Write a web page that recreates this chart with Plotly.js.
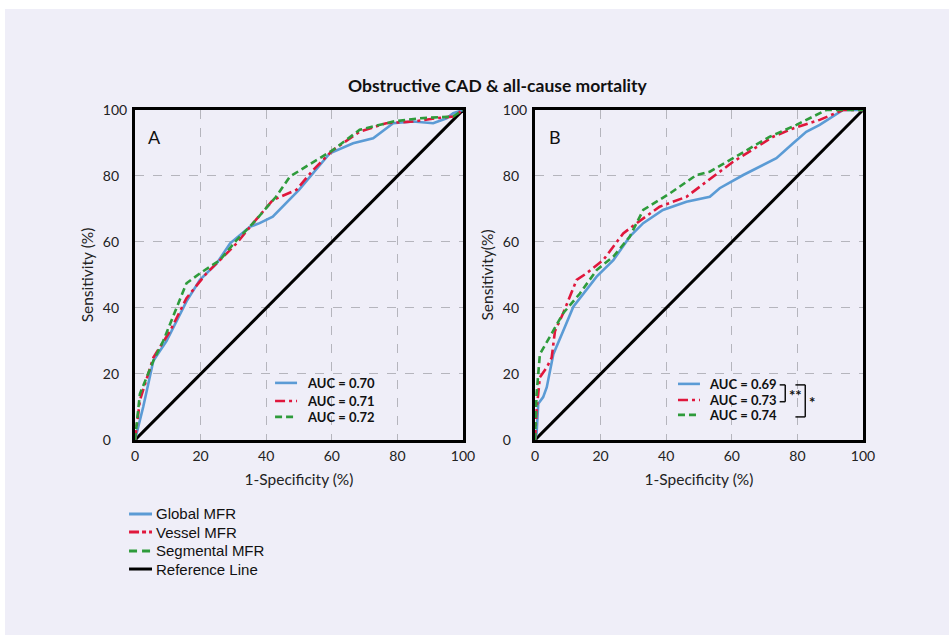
<!DOCTYPE html>
<html>
<head>
<meta charset="utf-8">
<script src="https://cdn.plot.ly/plotly-3.0.1.min.js"></script>
<style>
  html, body { margin:0; padding:0; background:#ffffff; width:949px; height:635px; overflow:hidden; }
  #chart { position:absolute; left:5px; top:9px; width:944px; height:626px; }
</style>
</head>
<body>
<div id="chart"></div>
<script>
// ---------- Data ----------
// Panel A
const globalA_x = [0, 2.5, 5.6, 9.6, 15.7, 19.8, 24.9, 29, 35, 38, 42, 50, 59.4, 66.5, 72.6, 78.7, 84.8, 90.9, 95, 97, 100];
const globalA_y = [0, 10, 24, 30, 42, 48.5, 53.5, 59.6, 64.6, 65.7, 67.7, 75.8, 86.9, 89.9, 91.4, 96, 96.5, 96, 97.5, 99, 100];
const vesselA_x = [0, 1.5, 5.6, 10.7, 15.7, 21.8, 25.9, 31, 36, 42, 49.2, 54.3, 60.4, 68.5, 76.6, 84.8, 91.9, 97, 100];
const vesselA_y = [0, 12, 25, 33, 43, 50.5, 54.5, 59.6, 65.7, 72.7, 75.8, 81.8, 87.9, 93.4, 96, 96.5, 97.5, 98, 100];
const segA_x = [0, 1.5, 5.6, 8.6, 15.7, 19.8, 25.9, 31, 36, 43, 47.2, 55.3, 60.4, 68.5, 78.7, 86.8, 97, 100];
const segA_y = [0, 14, 24, 30, 47.5, 50.5, 54.5, 60.6, 65.7, 73.7, 79.8, 84.8, 87.9, 94, 96.5, 97.5, 98, 100];
// Panel B
const globalB_x = [0, 0.5, 1, 2.5, 3.6, 5.6, 8.6, 11.7, 18.8, 23.9, 28.9, 33, 39, 46.2, 53.3, 56.3, 63.5, 68.5, 73.6, 78.7, 82.7, 86.8, 90.9, 93.9, 100];
const globalB_y = [0, 2, 11, 13, 16, 26, 33, 40.4, 49.5, 54.5, 61.6, 65.7, 69.7, 72.2, 73.7, 76.3, 80.3, 82.8, 85.4, 89.9, 93.4, 95.5, 98, 100, 100];
const vesselB_x = [0, 0.5, 1.5, 3.6, 5.1, 6.1, 8.6, 12.7, 15.7, 20.8, 26.9, 31, 38, 46.2, 52.3, 60.4, 72.6, 78.7, 86.8, 93.9, 100];
const vesselB_y = [0, 9, 19, 22, 25, 33, 38.4, 48.5, 50.5, 54.5, 62.6, 65.7, 70.7, 73.7, 78.3, 84.3, 91.9, 94.4, 97, 100, 100];
const segB_x = [0, 0.5, 1.5, 5.6, 8.6, 13.7, 18.8, 23.9, 28.9, 33, 41.1, 49.2, 53.3, 60.4, 71.6, 79.7, 88.8, 100];
const segB_y = [0, 14, 26, 33, 38.4, 44.4, 51.5, 55.6, 61.6, 69.7, 74.7, 80.3, 81.3, 85.4, 91.9, 95.5, 100, 100];
// Reference (chance) line
const refX = [0, 100];
const refY = [0, 100];

const seriesNames = ['Global MFR', 'Vessel MFR', 'Segmental MFR', 'Reference Line'];
const aucA = ['AUC = 0.70', 'AUC = 0.71', 'AUC = 0.72'];
const aucB = ['AUC = 0.69', 'AUC = 0.73', 'AUC = 0.74'];
const tickVals = [0, 20, 40, 60, 80, 100];
const tickLabels = ['0', '20', '40', '60', '80', '100'];
const chartTitle = 'Obstructive CAD & all-cause mortality';

// ---------- Styles ----------
const BG = '#efeef8';
const BLUE = '#5b9bd5', RED = '#e0173c', GREEN = '#2e9b3b';
const LW = 2.6;
const FONT = 'Lato, "Open Sans", sans-serif';
const styles = [
  {color: BLUE, width: LW, dash: 'solid'},
  {color: RED, width: LW, dash: '10px,4px,3px,4px'},
  {color: GREEN, width: LW, dash: '7px,4px'},
  {color: '#000000', width: 3, dash: 'solid'}
];

function tr(x, y, i, xa, ya) {
  return {x: x, y: y, xaxis: xa, yaxis: ya, type: 'scatter', mode: 'lines',
          name: seriesNames[i], line: styles[i], showlegend: false, hoverinfo: 'skip'};
}

const traces = [
  tr(refX, refY, 3, 'x', 'y'),
  tr(globalA_x, globalA_y, 0, 'x', 'y'),
  tr(vesselA_x, vesselA_y, 1, 'x', 'y'),
  tr(segA_x, segA_y, 2, 'x', 'y'),
  tr(refX, refY, 3, 'x2', 'y2'),
  tr(globalB_x, globalB_y, 0, 'x2', 'y2'),
  tr(vesselB_x, vesselB_y, 1, 'x2', 'y2'),
  tr(segB_x, segB_y, 2, 'x2', 'y2')
];

const TICKFONT = {family: FONT, size: 14, color: '#222'};
function xax(domain, anchor) {
  return {domain: domain, anchor: anchor, range: [0, 100], tickvals: tickVals, ticktext: tickLabels,
    showgrid: true, gridcolor: '#b5b5bd', griddash: 'dash', gridwidth: 1,
    showline: true, mirror: true, linecolor: '#000', linewidth: 3, zeroline: false,
    ticks: '', tickfont: TICKFONT, ticklabelstandoff: 1,
    title: {text: '1-Specificity (%)', font: {family: FONT, size: 15.5, color: '#222'}, standoff: 12},
    fixedrange: true};
}
// left-align the y tick labels by padding with figure spaces
const padLabels = tickLabels.map(s => s + '\u2007'.repeat(3 - s.length));
function yax(domain, anchor, title) {
  return {domain: domain, anchor: anchor, range: [0, 100], tickvals: tickVals, ticktext: padLabels,
    showgrid: true, gridcolor: '#b5b5bd', griddash: 'dash', gridwidth: 1,
    showline: true, mirror: true, linecolor: '#000', linewidth: 3, zeroline: false,
    ticks: '', tickfont: TICKFONT, ticklabelstandoff: 2,
    title: {text: title, font: {family: FONT, size: 15.5, color: '#222'}, standoff: 6},
    fixedrange: true};
}

const yDom = [0.3115, 0.8387];
const annFont = {family: FONT, size: 13, color: '#111'};

const shapes = [];
const annotations = [
  {xref: 'paper', yref: 'paper', x: 0.522, y: 0.877, text: '<b>' + chartTitle + '</b>', showarrow: false,
   font: {family: FONT, size: 17.5, color: '#111'}, xanchor: 'center', yanchor: 'middle'},
  {xref: 'x', yref: 'y', x: 6.1, y: 91.8, text: 'A', showarrow: false, font: {family: FONT, size: 18, color: '#111'}},
  {xref: 'x2', yref: 'y2', x: 6.1, y: 91.8, text: 'B', showarrow: false, font: {family: FONT, size: 18, color: '#111'}}
];

// In-panel AUC keys
const keyA = {x0: 42.7, x1: 49.4, xt: 51.8, ys: [17.3, 11.8, 7.0]};
const keyB = {x0: 43.6, x1: 50.3, xt: 52.4, ys: [17.0, 12.1, 7.6]};
function addKey(k, labels, xr, yr) {
  labels.forEach((lab, i) => {
    shapes.push({type: 'line', xref: xr, yref: yr, x0: k.x0, x1: k.x1, y0: k.ys[i], y1: k.ys[i],
      line: {color: styles[i].color, width: LW, dash: styles[i].dash}});
    annotations.push({xref: xr, yref: yr, x: k.xt, y: k.ys[i], text: '<b>' + lab + '</b>', showarrow: false,
      xanchor: 'left', yanchor: 'middle', font: annFont});
  });
}
addKey(keyA, aucA, 'x', 'y');
addKey(keyB, aucB, 'x2', 'y2');

// significance brackets in panel B
function bracket(xTick, xBar, yTop, yBot) {
  const l = {color: '#111', width: 1.5};
  shapes.push({type: 'line', xref: 'x2', yref: 'y2', x0: xTick, x1: xBar, y0: yTop, y1: yTop, line: l});
  shapes.push({type: 'line', xref: 'x2', yref: 'y2', x0: xBar, x1: xBar, y0: yTop, y1: yBot, line: l});
  shapes.push({type: 'line', xref: 'x2', yref: 'y2', x0: xTick, x1: xBar, y0: yBot, y1: yBot, line: l});
}
bracket(74.6, 76.3, 16.7, 11.6);
bracket(79.4, 82.4, 16.7, 7.0);
const starFont = {family: FONT, size: 15, color: '#111'};
annotations.push({xref: 'x2', yref: 'y2', x: 76.9, y: 13.6, text: '<b>**</b>', showarrow: false, xanchor: 'left', yanchor: 'middle', font: starFont});
annotations.push({xref: 'x2', yref: 'y2', x: 83.0, y: 11.6, text: '<b>*</b>', showarrow: false, xanchor: 'left', yanchor: 'middle', font: starFont});

// Series key (bottom left)
const legX0 = 0.1314, legX1 = 0.1557, legXT = 0.1575;
const legY = [0.1933, 0.1645, 0.1342, 0.1054];
seriesNames.forEach((nm, i) => {
  shapes.push({type: 'line', xref: 'paper', yref: 'paper', x0: legX0, x1: legX1, y0: legY[i], y1: legY[i],
    line: {color: styles[i].color, width: 3, dash: i === 1 ? '10px,3px,4px,3px' : (i === 2 ? '8px,5px' : 'solid')}});
  annotations.push({xref: 'paper', yref: 'paper', x: legXT, y: legY[i], text: nm, showarrow: false,
    xanchor: 'left', yanchor: 'middle', font: {family: '"Liberation Sans", Arial, sans-serif', size: 15, color: '#111'}});
});

const layout = {
  width: 944, height: 626,
  margin: {l: 0, r: 0, t: 0, b: 0},
  paper_bgcolor: BG, plot_bgcolor: BG,
  showlegend: false,
  xaxis: xax([0.1377, 0.4852], 'y'),
  yaxis: yax(yDom, 'x', 'Sensitivity (%)'),
  xaxis2: xax([0.5614, 0.9089], 'y2'),
  yaxis2: yax(yDom, 'x2', 'Sensitivity(%)'),
  shapes: shapes,
  annotations: annotations
};

Plotly.newPlot('chart', traces, layout, {displayModeBar: false, staticPlot: true});
</script>
</body>
</html>
